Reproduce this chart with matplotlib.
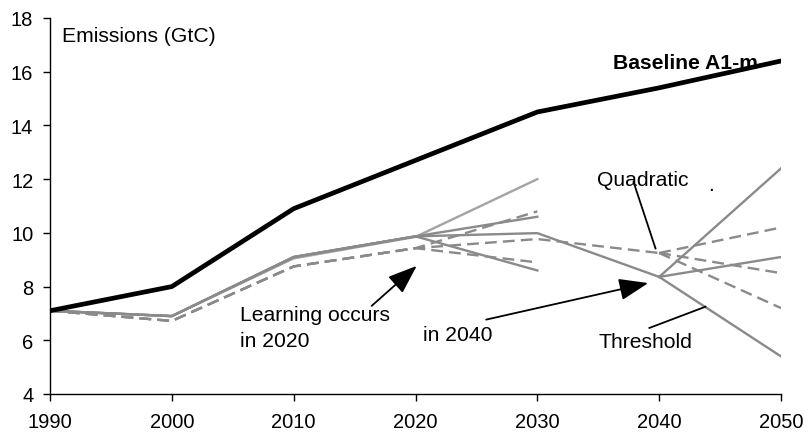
import matplotlib
matplotlib.use("Agg")
import matplotlib.pyplot as plt

plt.rcParams['font.family'] = ['Liberation Sans', 'DejaVu Sans']

years_full = [1990, 2000, 2010, 2020, 2030, 2040, 2050]
baseline = [7.1, 8.0, 10.9, 12.7, 14.5, 15.4, 16.4]

# Learning in 2020 - solid paths (threshold damage)
years_to2030 = [1990, 2000, 2010, 2020, 2030]
solid_light = [7.1, 6.9, 9.05, 9.85, 12.0]
solid_high = [7.1, 6.9, 9.1, 9.87, 10.6]
solid_low = [7.1, 6.9, 9.1, 9.87, 8.6]
years_to2040 = [1990, 2000, 2010, 2020, 2030, 2040]
solid_mid = [7.1, 6.9, 9.1, 9.87, 9.99, 8.36]
years_2040_2050 = [2040, 2050]
solid_2050_ends = [12.4, 9.1, 5.4]

# dashed paths (quadratic damage)
dashed_high = [7.1, 6.72, 8.75, 9.43, 10.8]
dashed_low = [7.1, 6.72, 8.75, 9.43, 8.9]
dashed_mid = [7.1, 6.72, 8.75, 9.43, 9.77, 9.25]
dashed_2050_ends = [10.2, 8.5, 7.2]

gray = '#8a8a8a'
light = '#a3a3a3'

fig = plt.figure(figsize=(8.08, 4.39), dpi=100)
ax = fig.add_axes([50/808, 44/439, 731/808, 376/439])

lw = 1.7
dash = (5, 2.6)
for ys in (dashed_high, dashed_low):
    ax.plot(years_to2030, ys, color=gray, lw=lw, dashes=dash)
ax.plot(years_to2040, dashed_mid, color=gray, lw=lw, dashes=dash)
for e in dashed_2050_ends:
    ax.plot(years_2040_2050, [dashed_mid[-1], e], color=gray, lw=lw, dashes=dash)
ax.plot(years_to2030, solid_light, color=light, lw=lw)
for ys in (solid_high, solid_low):
    ax.plot(years_to2030, ys, color=gray, lw=lw)
ax.plot(years_to2040, solid_mid, color=gray, lw=lw)
for e in solid_2050_ends:
    ax.plot(years_2040_2050, [solid_mid[-1], e], color=gray, lw=lw)

ax.plot(years_full, baseline, color='black', lw=3.4, solid_joinstyle='miter')

ax.set_xlim(1990, 2050)
ax.set_ylim(4, 18)
ax.set_xticks(years_full)
ax.set_yticks([4, 6, 8, 10, 12, 14, 16, 18])
ax.spines['top'].set_visible(False)
ax.spines['right'].set_visible(False)
for s in ('left', 'bottom'):
    ax.spines[s].set_linewidth(1.0)
ax.tick_params(axis='y', direction='out', length=5, width=1.0, pad=7, labelsize=14.5)
ax.tick_params(axis='x', direction='out', length=5, width=1.0, pad=8, labelsize=14.5)

fs = 15.2
ax.text(1991.0, 17.35, 'Emissions (GtC)', fontsize=fs, va='center', ha='left')
ax.text(2036.2, 16.35, 'Baseline A1-m', fontsize=fs, fontweight='bold', va='center', ha='left')
ax.text(2034.9, 12.0, 'Quadratic', fontsize=fs, va='center', ha='left')
ax.text(2044.0, 11.8, '.', fontsize=fs, va='center', ha='left')
ax.text(2035.0, 5.94, 'Threshold', fontsize=fs, va='center', ha='left')
ax.text(2005.6, 6.48, 'Learning occurs\nin 2020', fontsize=fs, va='center', ha='left',
        linespacing=1.45)
ax.text(2020.6, 6.2, 'in 2040', fontsize=fs, va='center', ha='left')

ax.plot([2037.9, 2039.7], [11.89, 9.42], color='black', lw=1.3)
ax.plot([2039.2, 2043.8], [6.46, 7.25], color='black', lw=1.3)

arrow = dict(arrowstyle='-|>,head_length=1.2,head_width=0.45', mutation_scale=15,
             color='black', lw=1.3, shrinkA=0, shrinkB=0)
ax.annotate('', xy=(2020.1, 8.77), xytext=(2016.4, 7.28), arrowprops=arrow)
ax.annotate('', xy=(2039.1, 8.13), xytext=(2025.8, 6.77), arrowprops=arrow)

fig.savefig('out.png', dpi=100)
